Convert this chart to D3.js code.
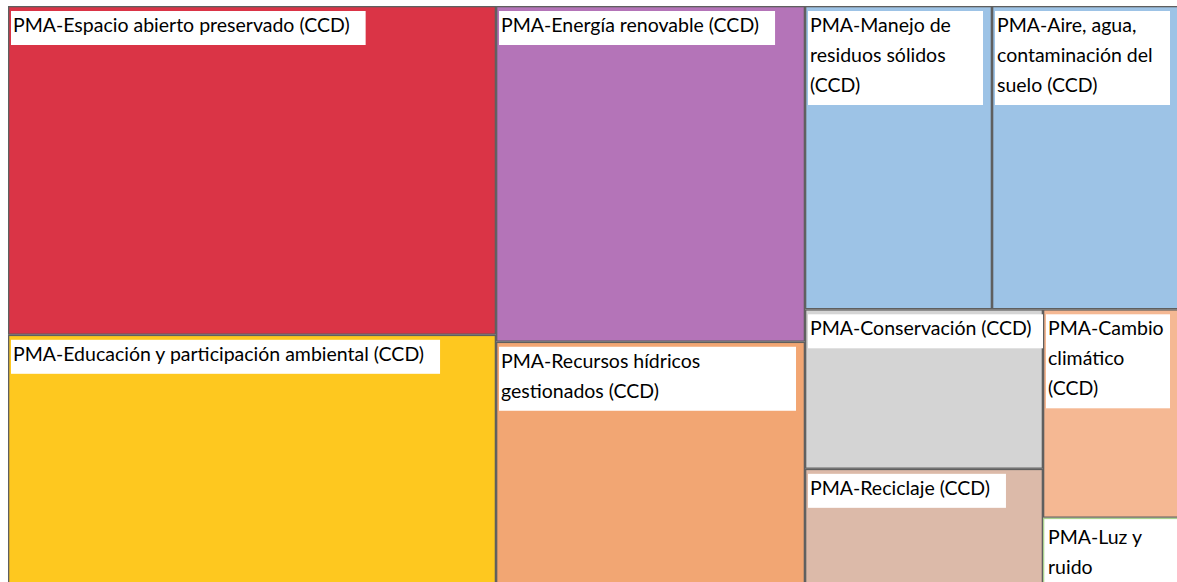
<!DOCTYPE html>
<html>
<head>
<meta charset="utf-8">
<script src="https://cdn.jsdelivr.net/npm/d3@7"></script>
<style>
  body { margin: 0; background: #fff; }
  svg { display: block; }
</style>
</head>
<body>
<div class="chart"></div>
<script>
// Data (relative tile sizes)
var categories = [
  "PMA-Espacio abierto preservado (CCD)",
  "PMA-Educación y participación ambiental (CCD)",
  "PMA-Energía renovable (CCD)",
  "PMA-Recursos hídricos gestionados (CCD)",
  "PMA-Manejo de residuos sólidos (CCD)",
  "PMA-Aire, agua, contaminación del suelo (CCD)",
  "PMA-Conservación (CCD)",
  "PMA-Reciclaje (CCD)",
  "PMA-Cambio climático (CCD)",
  "PMA-Luz y ruido"
];
var values = [237.1, 179.7, 153.3, 110.6, 83.8, 83.8, 56.1, 40.5, 41.9, 13.3];
var colors = ["#da3446", "#fec81f", "#b474b8", "#f2a673", "#9dc3e6",
              "#9dc3e6", "#d4d4d4", "#dcbaa9", "#f5b893", "#ffffff"];
var borders = ["#5f5f5f", "#5f5f5f", "#5f5f5f", "#5f5f5f", "#5f5f5f",
               "#5f5f5f", "#5f5f5f", "#5f5f5f", "#5f5f5f", "#a9d18e"];

var svgWidth = 1177;
var svgHeight = 582;
var margin = { top: 6, left: 8 };
var treeWidth = 1171;
var treeHeight = 578;

var fontSize = 19.5;
var lineHeight = 30;
var strokeW = 1.3;

var svg = d3.select(".chart")
  .append("svg")
  .attr("width", svgWidth)
  .attr("height", svgHeight)
  .style("font-family", "Lato, 'Liberation Sans', sans-serif");

var chartGroup = svg.append("g")
  .attr("transform", `translate(${margin.left}, ${margin.top})`);

var root = d3.hierarchy({
    children: categories.map(function(c, i) {
      return { name: c, value: values[i], color: colors[i], border: borders[i] };
    })
  })
  .sum(d => d.value || 0);

d3.treemap()
  .tile(d3.treemapSquarify)
  .size([treeWidth, treeHeight])(root);

var leaves = root.leaves();

// clip paths so labels stay inside their tile
var defs = svg.append("defs");
leaves.forEach(function(d, i) {
  defs.append("clipPath")
    .attr("id", "clip" + i)
    .append("rect")
    .attr("x", d.x0)
    .attr("y", d.y0)
    .attr("width", d.x1 - d.x0)
    .attr("height", d.y1 - d.y0);
});

var tiles = chartGroup.selectAll("g.tile")
  .data(leaves)
  .enter()
  .append("g")
  .attr("class", "tile");

tiles.append("rect")
  .attr("x", d => d.x0 + strokeW / 2)
  .attr("y", d => d.y0 + strokeW / 2)
  .attr("width", d => d.x1 - d.x0 - strokeW)
  .attr("height", d => d.y1 - d.y0 - strokeW)
  .attr("fill", d => d.data.color)
  .attr("stroke", d => d.data.border)
  .attr("stroke-width", strokeW);

// labels: white box + wrapped text at the top-left of every tile
var labels = chartGroup.selectAll("g.label")
  .data(leaves)
  .enter()
  .append("g")
  .attr("class", "label")
  .attr("clip-path", (d, i) => `url(#clip${i})`);

labels.each(function(d) {
  var g = d3.select(this);
  var w = d.x1 - d.x0;
  var bx = d.x0 + 3;
  var by = d.y0 + 5;
  var box = g.append("rect").attr("fill", "#fff");
  var text = g.append("text")
    .attr("font-size", fontSize)
    .attr("fill", "#000");

  var maxW = w - 14;
  var words = d.data.name.split(" ");
  var lines = [];
  var line = [];
  var probe = text.append("tspan");
  words.forEach(function(word) {
    line.push(word);
    probe.text(line.join(" "));
    if (probe.node().getComputedTextLength() > maxW && line.length > 1) {
      line.pop();
      lines.push(line.join(" "));
      line = [word];
    }
  });
  lines.push(line.join(" "));
  probe.remove();

  var widest = 0;
  lines.forEach(function(l, k) {
    var t = text.append("tspan")
      .attr("x", bx + 2)
      .attr("y", by + 21 + k * lineHeight)
      .text(l);
    widest = Math.max(widest, t.node().getComputedTextLength());
  });

  var boxW = lines.length > 1 ? w - 12 : widest + 18;
  box.attr("x", bx)
    .attr("y", by)
    .attr("width", boxW)
    .attr("height", lines.length * lineHeight + 4);
});
</script>
</body>
</html>
